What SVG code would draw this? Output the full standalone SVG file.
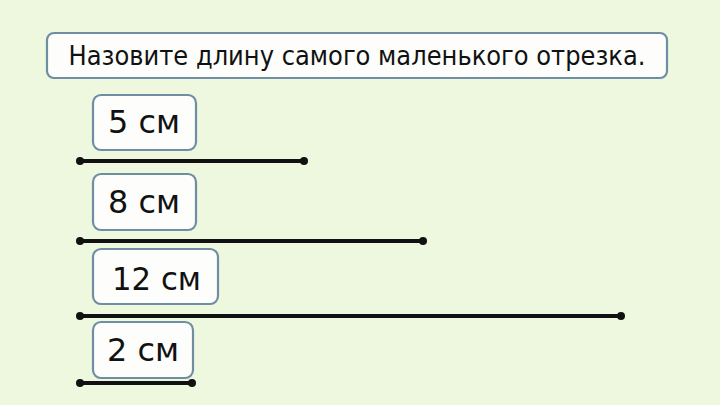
<svg xmlns="http://www.w3.org/2000/svg" width="720" height="405" viewBox="0 0 720 405">
<style>
.box{fill:#fdfefc;stroke:#6f8ea3;stroke-width:2.2}
.t{font-family:"DejaVu Sans",Verdana,sans-serif;fill:#111}
.lbl{font-size:32px}
.seg{stroke:#111;stroke-width:4;stroke-linecap:butt}
.dot{fill:#111}
</style>
<rect width="720" height="405" fill="#eef8de"/>
<g id="title">
<rect class="box" x="47" y="33" width="620" height="45" rx="7"/>
<text class="t" x="357" y="65" font-size="26" font-family="DejaVu Sans Condensed, DejaVu Sans, sans-serif" text-anchor="middle" textLength="577" lengthAdjust="spacingAndGlyphs">Назовите длину самого маленького отрезка.</text>
</g>
<g id="label5">
<rect class="box" x="93" y="95" width="103" height="55" rx="8"/>
<text class="t lbl" x="108" y="133" textLength="72" lengthAdjust="spacingAndGlyphs">5 см</text>
</g>
<g id="label8">
<rect class="box" x="93" y="174" width="103" height="56" rx="8"/>
<text class="t lbl" x="108" y="213" textLength="72" lengthAdjust="spacingAndGlyphs">8 см</text>
</g>
<g id="label12">
<rect class="box" x="93" y="249" width="125" height="55" rx="8"/>
<text class="t lbl" x="112" y="290" textLength="89" lengthAdjust="spacingAndGlyphs">12 см</text>
</g>
<g id="label2">
<rect class="box" x="93" y="322" width="100" height="56" rx="8"/>
<text class="t lbl" x="107" y="361" textLength="72" lengthAdjust="spacingAndGlyphs">2 см</text>
</g>
<g id="segments">
<line class="seg" x1="80" y1="161" x2="304" y2="161"/>
<circle class="dot" cx="80" cy="161" r="4"/><circle class="dot" cx="304" cy="161" r="4"/>
<line class="seg" x1="80" y1="241" x2="423" y2="241"/>
<circle class="dot" cx="80" cy="241" r="4"/><circle class="dot" cx="423" cy="241" r="4"/>
<line class="seg" x1="80" y1="316" x2="621" y2="316"/>
<circle class="dot" cx="80" cy="316" r="4"/><circle class="dot" cx="621" cy="316" r="4"/>
<line class="seg" x1="80" y1="383" x2="192" y2="383"/>
<circle class="dot" cx="80" cy="383" r="4"/><circle class="dot" cx="192" cy="383" r="4"/>
</g>
</svg>
